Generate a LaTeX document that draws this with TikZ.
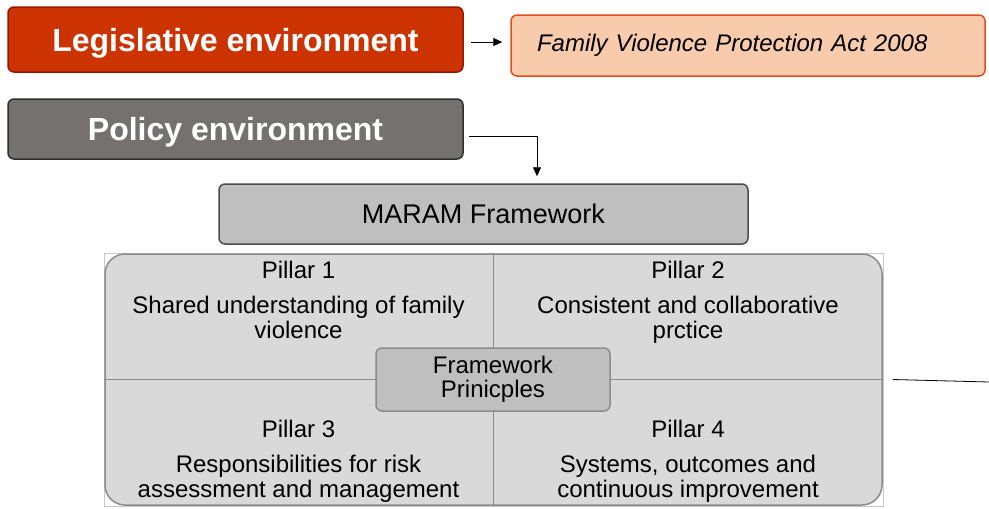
\documentclass[tikz,border=0pt]{standalone}
\usepackage{fontspec}
\setmainfont{Liberation Sans}
\usepackage{xcolor}
\usetikzlibrary{arrows.meta}
\definecolor{legisred}{HTML}{CC3300}
\definecolor{legisline}{HTML}{9A1500}
\definecolor{actfill}{HTML}{F8CBAD}
\definecolor{actline}{HTML}{E0501E}
\definecolor{polfill}{HTML}{757170}
\definecolor{polline}{HTML}{2E2E2E}
\definecolor{maramfill}{HTML}{BFBFBF}
\definecolor{pillarfill}{HTML}{D9D9D9}
\definecolor{pillarline}{HTML}{8C8C8C}

\begin{document}
\begin{tikzpicture}[x=1pt,y=-1pt,
    envbox/.style={draw, rounded corners=6pt, line width=1.5pt,
      minimum width=455pt, minimum height=65pt, text=white, text depth=0pt,
      font=\fontsize{32}{34}\selectfont\bfseries},
    arrow/.style={-{Triangle[length=9pt,width=8pt]}, line width=0.8pt},
    pillartext/.style={align=center, font=\fontsize{24}{25}\selectfont}]
    \useasboundingbox (0,0) rectangle (989,509);
    \node [envbox, fill=legisred, draw=legisline] (legis) at (235.5,39.5) {Legislative environment};
    \node [draw=actline, fill=actfill, rounded corners=6pt, line width=1.5pt,
      minimum width=474pt, minimum height=61pt, text width=422pt, align=left,
      font=\fontsize{24}{26}\selectfont\itshape] (fvpa) at (748,45.5) {Family Violence Protection Act 2008};
    \node [envbox, fill=polfill, draw=polline, minimum height=60pt] (policy) at (235.5,129) {Policy environment};
    \node [draw=gray!60!black, fill=maramfill, rounded corners=6pt, line width=1.5pt,
      minimum width=529pt, minimum height=60pt,
      font=\fontsize{27}{29}\selectfont] (maram) at (483.5,214) {MARAM Framework};
    % pillars
    \draw [gray!45, line width=0.8pt] (104,253) rectangle (883,506);
    \node [draw=pillarline, fill=pillarfill, rounded corners=20pt, line width=1.5pt,
      minimum width=777pt, minimum height=251pt] (pillars) at (493.5,379.5) {};
    \draw [pillarline, line width=1.5pt] (pillars.north) -- (pillars.south);
    \draw [pillarline, line width=1.5pt] (pillars.west) -- (pillars.east);
    \node [pillartext, anchor=north] (p1) at (298.5,258) {Pillar 1\\[10pt]Shared understanding of family\\violence};
    \node [pillartext, anchor=north] (p2) at (688,258) {Pillar 2\\[10pt]Consistent and collaborative\\prctice};
    \node [pillartext, anchor=north] (p3) at (298.5,417) {Pillar 3\\[10pt]Responsibilities for risk\\assessment and management};
    \node [pillartext, anchor=north] (p4) at (688,417) {Pillar 4\\[10pt]Systems, outcomes and\\continuous improvement};
    \node [draw=pillarline, fill=maramfill, rounded corners=6pt, line width=1.5pt,
      minimum width=234pt, minimum height=63pt, align=center,
      font=\fontsize{24}{24}\selectfont] (principles) at (493,379.5) {Framework\\Prinicples};
    % connectors
    \draw [arrow] ([xshift=7pt,yshift=-2.5pt]legis.east) -- ([xshift=-8pt,yshift=3.5pt]fvpa.west);
    \draw [arrow] ([xshift=5pt,yshift=-7pt]policy.east) -| ([xshift=53.5pt,yshift=7pt]maram.north);
    \coordinate (tail) at (989,382);
    \draw [line width=0.8pt] ([xshift=10pt]pillars.east) -- (tail);
\end{tikzpicture}
\end{document}
